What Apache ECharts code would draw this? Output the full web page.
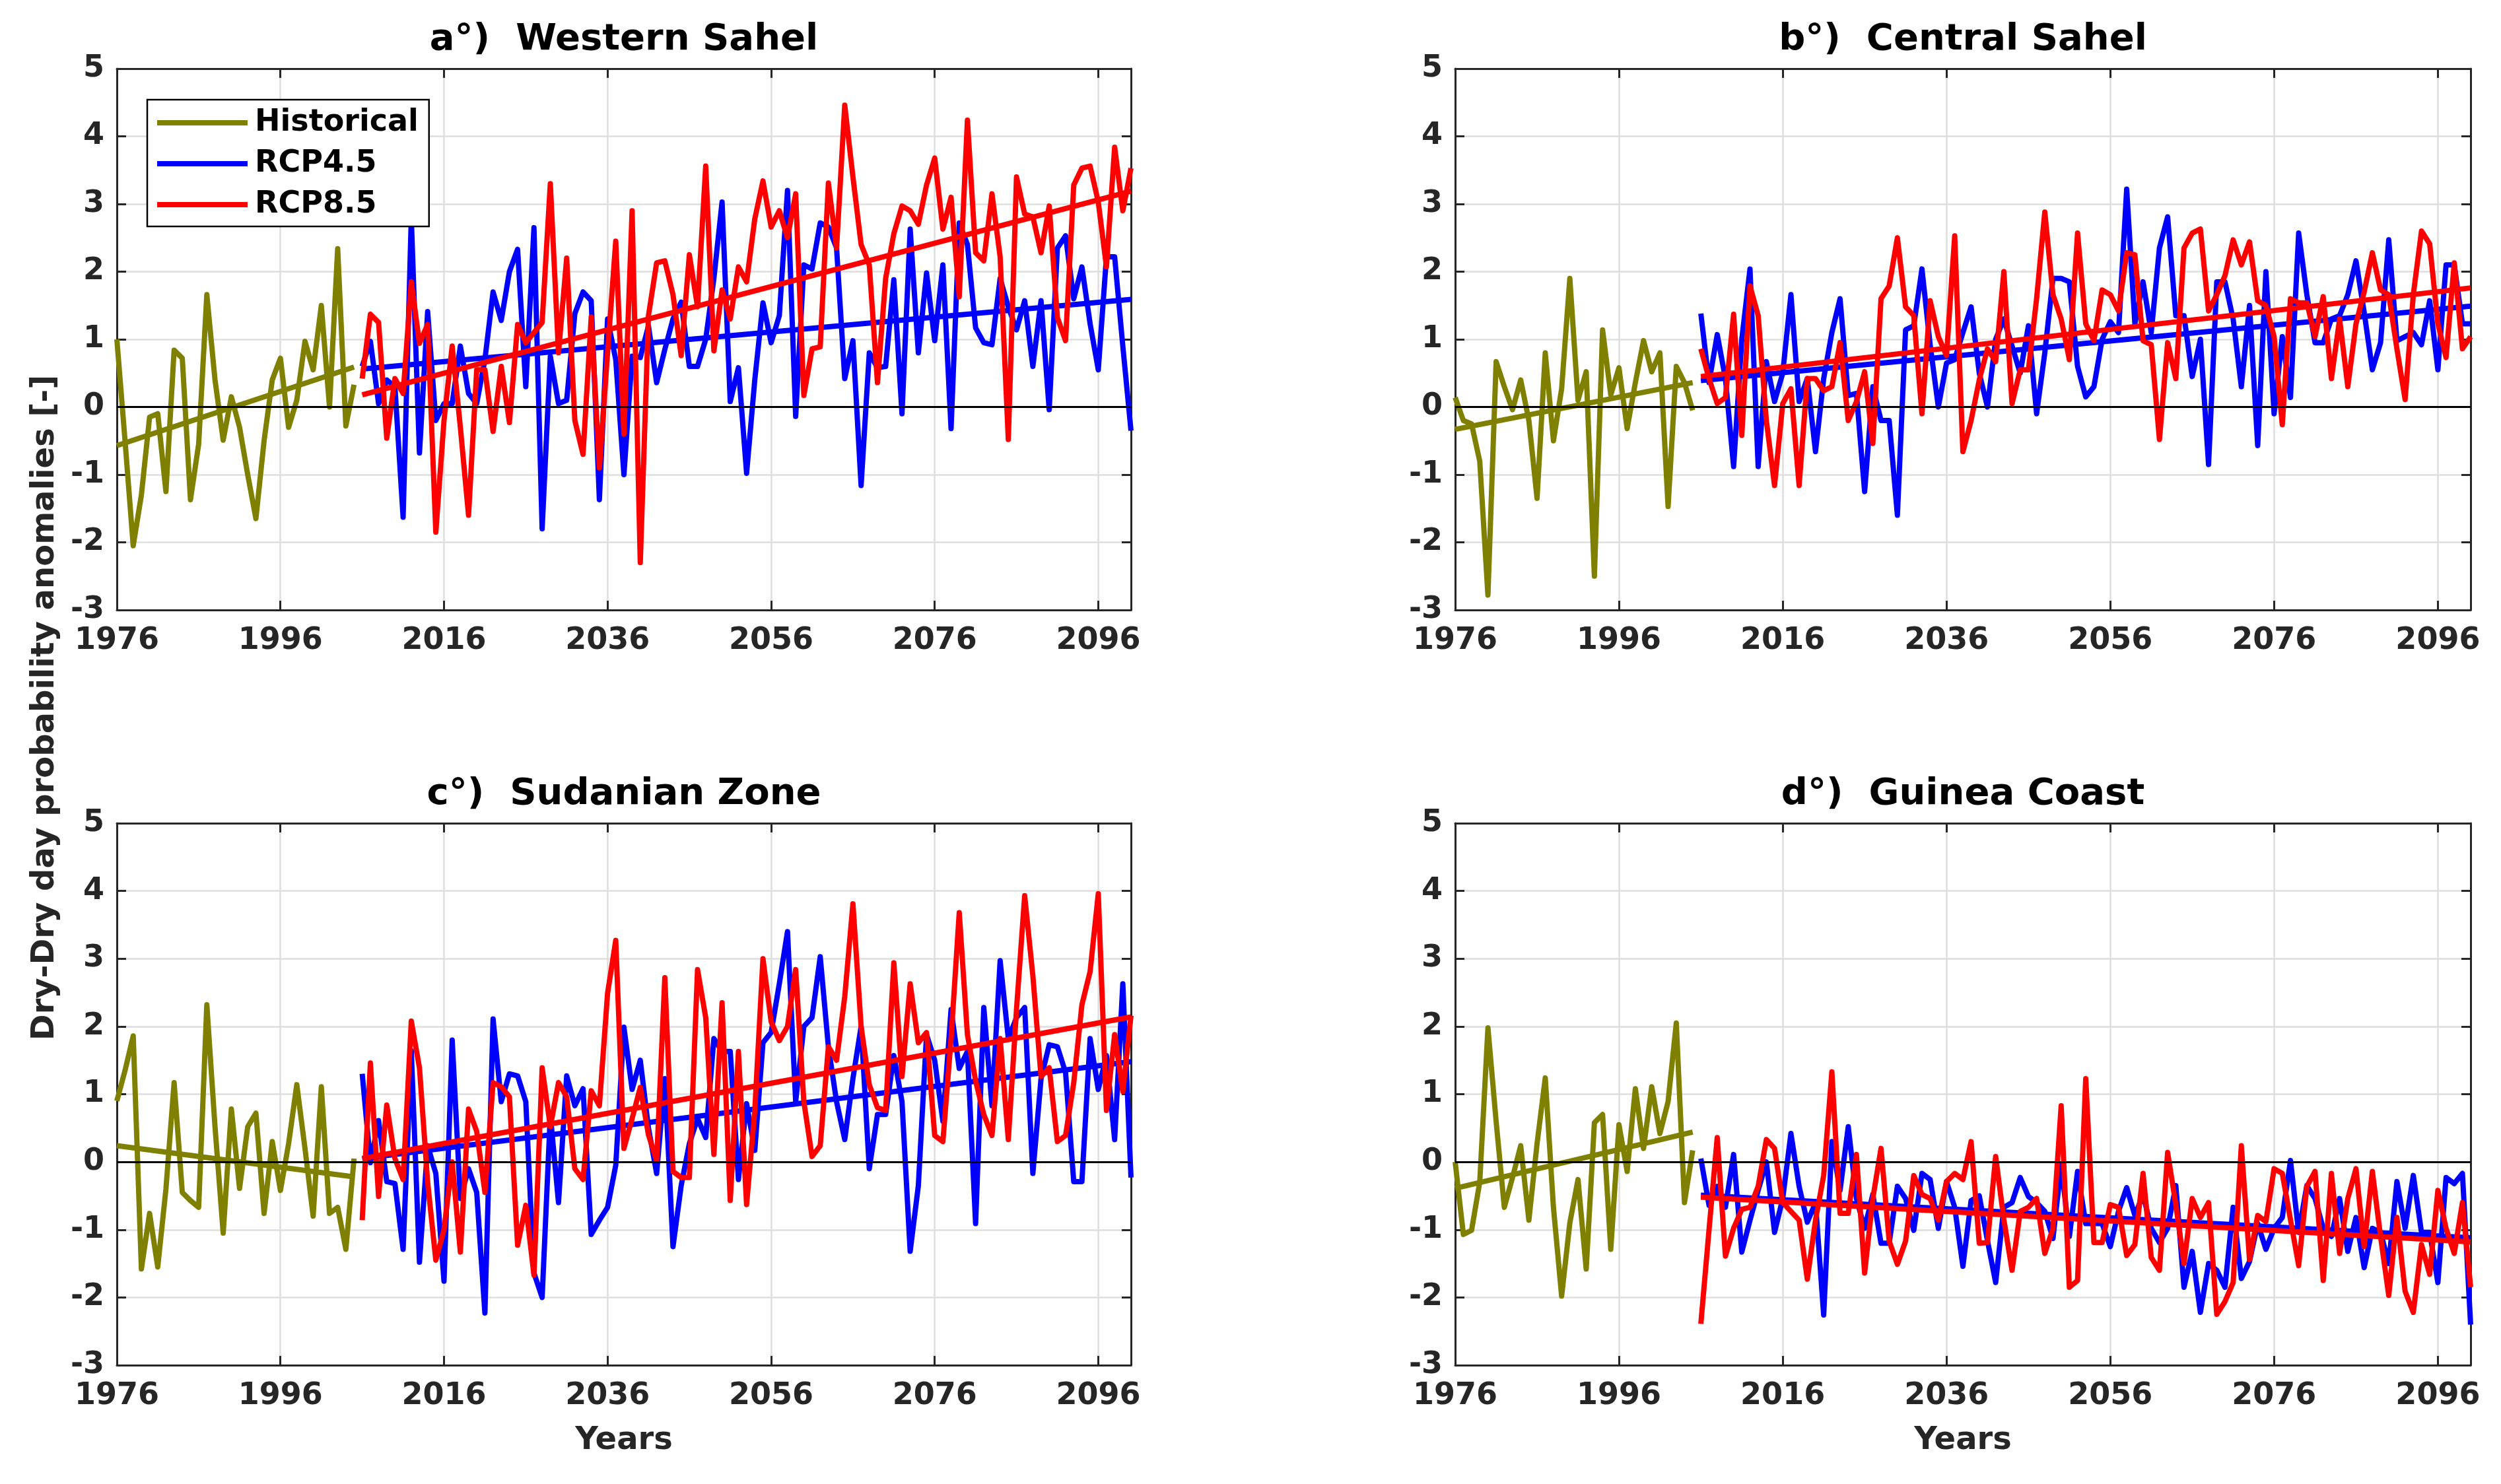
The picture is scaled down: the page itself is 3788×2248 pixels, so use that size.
<!DOCTYPE html>
<html><head><meta charset="utf-8">
<script src="https://cdn.jsdelivr.net/npm/echarts@6/dist/echarts.min.js"></script>
<style>html,body{margin:0;padding:0;background:#fff}#chart{width:3788px;height:2248px}</style>
</head><body><div id="chart"></div>
<script>
// ---------- DATA ----------
const histYears = [1976,1977,1978,1979,1980,1981,1982,1983,1984,1985,1986,1987,1988,1989,1990,1991,1992,1993,1994,1995,1996,1997,1998,1999,2000,2001,2002,2003,2004,2005];
const rcpYears = [2006,2007,2008,2009,2010,2011,2012,2013,2014,2015,2016,2017,2018,2019,2020,2021,2022,2023,2024,2025,2026,2027,2028,2029,2030,2031,2032,2033,2034,2035,2036,2037,2038,2039,2040,2041,2042,2043,2044,2045,2046,2047,2048,2049,2050,2051,2052,2053,2054,2055,2056,2057,2058,2059,2060,2061,2062,2063,2064,2065,2066,2067,2068,2069,2070,2071,2072,2073,2074,2075,2076,2077,2078,2079,2080,2081,2082,2083,2084,2085,2086,2087,2088,2089,2090,2091,2092,2093,2094,2095,2096,2097,2098,2099,2100];
const histTrendYears = [1976, 2005];
const rcpTrendYears = [2006, 2100];
const xTicks = [1976, 1996, 2016, 2036, 2056, 2076, 2096];
const yTicks = [-3, -2, -1, 0, 1, 2, 3, 4, 5];
const seriesNames = ['Historical', 'RCP4.5', 'RCP8.5'];
const panelTitles = ['a°)  Western Sahel', 'b°)  Central Sahel', 'c°)  Sudanian Zone', 'd°)  Guinea Coast'];
const yAxisTitle = 'Dry-Dry day probability anomalies [-]';
const xAxisTitle = 'Years';

// a) Western Sahel
const aHist = [1.0,-0.5,-2.05,-1.3,-0.15,-0.1,-1.25,0.84,0.72,-1.37,
 -0.55,1.66,0.4,-0.49,0.15,-0.3,-1.0,-1.65,-0.5,0.4,
 0.72,-0.3,0.1,0.97,0.55,1.5,0.0,2.34,-0.28,0.33];
const aRcp45 = [0.6,0.97,0.05,0.4,0.3,-1.63,2.8,-0.68,1.41,-0.2,
 0.05,0.05,0.9,0.2,0.05,0.7,1.7,1.28,2.0,2.33,
 0.3,2.65,-1.8,0.75,0.05,0.1,1.38,1.7,1.57,-1.37,
 1.3,0.7,-1.0,0.75,0.73,1.2,0.36,0.85,1.3,1.55,
 0.6,0.6,1.0,1.9,3.03,0.08,0.58,-0.98,0.4,1.54,
 0.95,1.35,3.2,-0.14,2.1,2.04,2.72,2.66,2.35,0.42,
 0.98,-1.16,0.8,0.58,0.6,1.88,-0.1,2.63,0.8,1.98,
 0.98,2.1,-0.32,2.72,2.4,1.17,0.95,0.92,1.9,1.48,
 1.14,1.57,0.6,1.57,-0.04,2.35,2.53,1.6,2.07,1.23,
 0.55,2.22,2.22,0.9,-0.35];
const aRcp85 = [0.42,1.37,1.25,-0.46,0.42,0.2,1.85,0.94,1.22,-1.85,
 -0.2,0.9,-0.3,-1.6,0.55,0.55,-0.36,0.6,-0.23,1.22,
 0.95,1.1,1.25,3.3,0.8,2.2,-0.2,-0.7,1.33,-0.9,
 0.8,2.45,-0.4,2.9,-2.3,1.35,2.13,2.16,1.66,0.76,
 2.25,1.48,3.56,0.83,1.73,1.3,2.07,1.85,2.78,3.34,
 2.66,2.9,2.5,3.15,0.17,0.86,0.89,3.31,2.35,4.46,
 3.4,2.4,2.1,0.36,1.9,2.56,2.97,2.9,2.7,3.28,
 3.68,2.63,3.1,1.63,4.24,2.28,2.16,3.15,2.22,-0.48,
 3.4,2.85,2.81,2.28,2.97,1.32,0.98,3.28,3.53,3.56,
 3.03,2.07,3.84,2.9,3.53];
const aHistTrend = [-0.57, 0.59];
const aRcp45Trend = [0.56, 1.59];
const aRcp85Trend = [0.18, 3.19];

// b) Central Sahel
const bHist = [0.14,-0.2,-0.25,-0.8,-2.78,0.67,0.3,-0.04,0.4,-0.2,
 -1.35,0.8,-0.5,0.27,1.9,0.1,0.52,-2.5,1.14,0.18,
 0.58,-0.32,0.36,0.98,0.52,0.8,-1.47,0.6,0.36,-0.05];
const bRcp45 = [1.38,0.36,1.07,0.42,-0.88,1.0,2.04,-0.88,0.67,0.08,
 0.5,1.66,0.08,0.42,-0.66,0.42,1.1,1.6,0.17,0.2,
 -1.25,0.3,-0.2,-0.2,-1.6,1.14,1.2,2.04,0.92,0.0,
 0.65,0.7,1.1,1.48,0.5,0.0,1.0,1.3,0.9,0.5,
 1.2,-0.1,0.8,1.9,1.9,1.85,0.6,0.15,0.3,1.0,
 1.26,1.1,3.22,1.23,1.85,1.1,2.35,2.81,1.35,1.35,
 0.45,1.0,-0.85,1.85,1.85,1.3,0.3,1.5,-0.57,2.0,
 -0.1,1.04,0.14,2.57,1.66,0.95,0.95,1.3,1.35,1.66,
 2.16,1.4,0.55,0.95,2.47,0.98,1.04,1.1,0.92,1.57,
 0.55,2.1,2.1,1.23,1.23];
const bRcp85 = [0.86,0.42,0.05,0.14,1.37,-0.42,1.79,1.35,-0.2,-1.16,
 0.05,0.27,-1.16,0.42,0.42,0.24,0.3,0.95,-0.2,0.08,
 0.52,-0.54,1.6,1.79,2.5,1.48,1.35,-0.1,1.57,1.04,
 0.76,2.53,-0.66,-0.2,0.4,0.86,0.67,2.0,0.05,0.55,
 0.55,1.6,2.88,1.66,1.3,0.7,2.57,1.23,0.98,1.73,
 1.66,1.42,2.28,2.25,0.98,0.92,-0.48,0.95,0.42,2.35,
 2.57,2.63,1.42,1.66,1.94,2.47,2.1,2.44,1.57,1.5,
 1.04,-0.26,1.6,1.54,1.54,1.04,1.63,0.42,1.3,0.3,
 1.23,1.7,2.28,1.73,1.66,0.86,0.11,1.66,2.6,2.41,
 1.23,0.73,2.13,0.86,1.04];
const bHistTrend = [-0.33, 0.36];
const bRcp45Trend = [0.39, 1.49];
const bRcp85Trend = [0.45, 1.76];

// c) Sudanian Zone
const cHist = [0.9,1.35,1.86,-1.58,-0.76,-1.55,-0.4,1.17,-0.45,-0.57,
 -0.67,2.32,0.52,-1.05,0.78,-0.39,0.52,0.72,-0.76,0.3,
 -0.42,0.27,1.14,0.2,-0.8,1.11,-0.76,-0.67,-1.29,0.05];
const cRcp45 = [1.3,-0.01,0.61,-0.29,-0.32,-1.29,1.64,-1.48,0.24,-0.17,
 -1.76,1.8,-0.54,-0.1,-0.45,-2.23,2.11,0.89,1.3,1.27,
 0.89,-1.64,-2.0,0.7,-0.6,1.27,0.83,1.08,-1.07,-0.86,
 -0.67,-0.05,1.99,1.07,1.5,0.5,-0.17,1.23,-1.25,-0.35,
 0.27,0.64,0.36,1.82,1.63,1.63,-0.26,0.86,0.17,1.76,
 1.91,2.63,3.4,0.89,2.0,2.13,3.03,1.7,0.89,0.33,
 1.23,2.0,-0.1,0.7,0.7,1.57,0.89,-1.32,-0.35,1.88,
 1.5,0.6,2.25,1.38,1.63,-0.91,2.28,0.83,2.97,1.82,
 2.13,2.28,-0.17,1.23,1.73,1.7,1.32,-0.29,-0.29,1.82,
 1.07,1.57,0.33,2.63,-0.23];
const cRcp85 = [-0.86,1.46,-0.51,0.84,0.05,-0.26,2.08,1.39,-0.3,-1.45,
 -1.0,0.0,-1.33,0.78,0.45,-0.45,1.17,1.11,0.96,-1.23,
 -0.64,-1.67,1.39,0.52,1.17,0.96,-0.1,-0.26,1.05,0.83,
 2.49,3.27,0.2,0.64,1.1,0.4,0.02,2.72,-0.14,-0.23,
 -0.23,2.84,2.13,0.11,2.35,-0.57,1.63,-0.63,0.76,3.0,
 2.07,1.79,2.0,2.84,0.89,0.08,0.24,1.7,1.5,2.44,
 3.81,2.0,1.14,0.8,0.76,2.94,1.26,2.63,1.76,1.91,
 0.39,0.3,1.82,3.68,1.88,1.2,0.7,0.39,1.82,0.33,
 2.25,3.93,2.75,1.26,1.39,0.3,0.39,1.17,2.32,2.81,
 3.96,0.76,1.88,1.04,2.16];
const cHistTrend = [0.24, -0.22];
const cRcp45Trend = [0.05, 1.48];
const cRcp85Trend = [0.05, 2.14];

// d) Guinea Coast
const dHist = [0.0,-1.07,-1.01,-0.3,1.98,0.6,-0.67,-0.23,0.24,-0.86,
 0.27,1.24,-0.67,-1.98,-0.9,-0.26,-1.58,0.58,0.7,-1.29,
 0.55,-0.14,1.08,0.2,1.11,0.42,0.89,2.05,-0.6,0.17];
const dRcp45 = [0.05,-0.64,-0.36,-0.67,0.11,-1.33,-0.86,-0.42,0.0,-1.04,
 -0.54,0.42,-0.36,-0.89,-0.6,-2.26,0.3,-0.42,0.52,-0.54,
 -0.98,-0.48,-1.2,-1.2,-0.36,-0.54,-1.01,-0.17,-0.26,-0.98,
 -0.29,-0.67,-1.54,-0.57,-0.5,-1.16,-1.78,-0.67,-0.6,-0.23,
 -0.51,-0.6,-0.73,-1.13,-0.04,-1.1,-0.14,-0.91,-0.91,-0.91,
 -1.25,-0.73,-0.38,-0.79,-0.48,-0.98,-1.19,-0.98,-0.35,-1.85,
 -1.32,-2.22,-1.5,-1.6,-1.85,-0.67,-1.72,-1.47,-0.91,-1.29,
 -0.98,-0.82,0.02,-1.04,-0.35,-0.54,-0.98,-1.1,-0.54,-1.32,
 -0.82,-1.56,-0.98,-1.04,-1.5,-0.29,-0.98,-0.2,-1.04,-1.04,
 -1.78,-0.23,-0.32,-0.17,-2.4];
const dRcp85 = [-2.39,-1.0,0.36,-1.39,-0.98,-0.7,-0.67,-0.36,0.33,0.2,
 -0.6,-0.73,-0.86,-1.73,-0.86,-0.2,1.33,-0.76,-0.76,0.11,
 -1.64,-0.54,0.2,-1.17,-1.51,-1.17,-0.2,-0.48,-0.54,-0.86,
 -0.29,-0.17,-0.26,0.3,-1.2,-1.19,0.08,-0.85,-1.6,-0.73,
 -0.67,-0.54,-1.35,-0.98,0.83,-1.85,-1.75,1.23,-1.19,-1.19,
 -0.63,-0.67,-1.38,-1.22,-0.17,-1.41,-1.6,0.14,-0.63,-1.5,
 -0.54,-0.82,-0.6,-2.25,-2.06,-1.78,0.24,-1.44,-0.79,-0.88,
 -0.1,-0.17,-0.85,-1.53,-0.36,-0.14,-1.75,-0.17,-1.35,-0.54,
 -0.1,-1.25,-0.14,-1.1,-1.97,-0.82,-1.91,-2.22,-1.22,-1.66,
 -0.42,-0.98,-1.35,-0.6,-1.85];
const dHistTrend = [-0.39, 0.44];
const dRcp45Trend = [-0.49, -1.12];
const dRcp85Trend = [-0.52, -1.18];

// ---------- LAYOUT / STYLE ----------
const FONT = '"DejaVu Sans", "Liberation Sans", sans-serif';
const TXT = '#262626';
const colors = {hist: '#808000', r45: '#0000ff', r85: '#ff0000'};
const LW = 8;
const panels = [
  {title: panelTitles[0], hist: aHist, r45: aRcp45, r85: aRcp85, tH: aHistTrend, t45: aRcp45Trend, t85: aRcp85Trend, left: 177, top: 104, width: 1536, height: 820},
  {title: panelTitles[1], hist: bHist, r45: bRcp45, r85: bRcp85, tH: bHistTrend, t45: bRcp45Trend, t85: bRcp85Trend, left: 2204, top: 104, width: 1538, height: 820},
  {title: panelTitles[2], hist: cHist, r45: cRcp45, r85: cRcp85, tH: cHistTrend, t45: cRcp45Trend, t85: cRcp85Trend, left: 177, top: 1247, width: 1536, height: 821},
  {title: panelTitles[3], hist: dHist, r45: dRcp45, r85: dRcp85, tH: dHistTrend, t45: dRcp45Trend, t85: dRcp85Trend, left: 2204, top: 1247, width: 1538, height: 821}
];
const zip = (xs, ys) => xs.map((x, i) => [x, ys[i]]);

const grid = [], xAxis = [], yAxis = [], series = [], graphic = [];
const axisLineStyle = {color: TXT, width: 3};
panels.forEach((p, i) => {
  grid.push({left: p.left, top: p.top, width: p.width, height: p.height, containLabel: false, outerBoundsMode: 'none', show: false});
  const xBase = {type: 'value', gridIndex: i, min: xTicks[0], max: 2100, interval: xTicks[1] - xTicks[0]};
  const yBase = {type: 'value', gridIndex: i, min: yTicks[0], max: yTicks[yTicks.length - 1], interval: 1};
  xAxis.push(Object.assign({}, xBase, {
    position: 'bottom',
    axisLine: {show: true, onZero: false, lineStyle: axisLineStyle},
    axisTick: {show: true, inside: true, length: 14, lineStyle: {color: TXT, width: 3}},
    axisLabel: {show: true, showMaxLabel: false, color: TXT, fontSize: 46, fontWeight: 'bold', fontFamily: FONT, margin: 24,
      formatter: v => String(v)},
    splitLine: {show: true, lineStyle: {color: '#dedede', width: 2.5}}
  }));
  xAxis.push(Object.assign({}, xBase, {
    position: 'top',
    axisLine: {show: true, onZero: false, lineStyle: axisLineStyle},
    axisTick: {show: true, inside: true, length: 14, lineStyle: {color: TXT, width: 3}},
    axisLabel: {show: false},
    splitLine: {show: false}
  }));
  yAxis.push(Object.assign({}, yBase, {
    position: 'left',
    axisLine: {show: true, onZero: false, lineStyle: axisLineStyle},
    axisTick: {show: true, inside: true, length: 14, lineStyle: {color: TXT, width: 3}},
    axisLabel: {show: true, color: TXT, fontSize: 46, fontWeight: 'bold', fontFamily: FONT, margin: 19,
      formatter: v => String(v)},
    splitLine: {show: true, lineStyle: {color: '#dedede', width: 2.5}}
  }));
  yAxis.push(Object.assign({}, yBase, {
    position: 'right',
    axisLine: {show: true, onZero: false, lineStyle: axisLineStyle},
    axisTick: {show: true, inside: true, length: 14, lineStyle: {color: TXT, width: 3}},
    axisLabel: {show: false},
    splitLine: {show: false}
  }));
  const mk = (name, data, color, extra) => Object.assign({
    type: 'line', name: name, xAxisIndex: 2 * i, yAxisIndex: 2 * i, data: data,
    showSymbol: false, symbol: 'none', animation: false, silent: true, clip: true,
    lineStyle: {color: color, width: LW, join: 'round', cap: 'butt'},
    itemStyle: {color: color}
  }, extra || {});
  series.push(mk(seriesNames[0], zip(histYears, p.hist), colors.hist));
  series.push(mk(seriesNames[0] + ' trend', zip(histTrendYears, p.tH), colors.hist));
  series.push(mk(seriesNames[1], zip(rcpYears, p.r45), colors.r45));
  series.push(mk(seriesNames[1] + ' trend', zip(rcpTrendYears, p.t45), colors.r45));
  series.push(mk(seriesNames[2], zip(rcpYears, p.r85), colors.r85));
  series.push(mk(seriesNames[2] + ' trend', zip(rcpTrendYears, p.t85), colors.r85, {
    markLine: {silent: true, symbol: ['none', 'none'], animation: false, label: {show: false},
      lineStyle: {color: '#000', width: 3, type: 'solid'}, emphasis: {disabled: true},
      data: [{yAxis: 0}]}
  }));
  graphic.push({type: 'text', x: p.left + p.width / 2, y: p.top - 44, silent: true,
    style: {text: p.title, font: 'bold 56px ' + FONT, fill: '#000', align: 'center', verticalAlign: 'middle', textAlign: 'center', textVerticalAlign: 'middle'}});
  if (i >= 2) {
    graphic.push({type: 'text', x: p.left + p.width / 2, y: p.top + p.height + 115, silent: true,
      style: {text: xAxisTitle, font: 'bold 48px ' + FONT, fill: TXT, align: 'center', verticalAlign: 'middle', textAlign: 'center', textVerticalAlign: 'middle'}});
  }
});
graphic.push({type: 'text', x: 69, y: 1072, rotation: Math.PI / 2, silent: true,
  style: {text: yAxisTitle, font: 'bold 48px ' + FONT, fill: TXT, align: 'center', verticalAlign: 'middle', textAlign: 'center', textVerticalAlign: 'middle'}});

const chart = echarts.init(document.getElementById('chart'), null, {renderer: 'canvas'});
chart.setOption({
  backgroundColor: '#fff',
  animation: false,
  grid: grid, xAxis: xAxis, yAxis: yAxis, series: series, graphic: graphic,
  legend: {
    data: seriesNames, orient: 'vertical', left: 223, top: 151,
    icon: 'rect', itemWidth: 137, itemHeight: 8, itemGap: 12,
    borderColor: '#000', borderWidth: 2.5, backgroundColor: '#fff',
    padding: [10, 16, 8, 15], selectedMode: false,
    textStyle: {fontSize: 46, fontWeight: 'bold', fontFamily: FONT, color: '#000', lineHeight: 50, padding: [0, 0, 0, 6]}
  }
});
</script></body></html>
